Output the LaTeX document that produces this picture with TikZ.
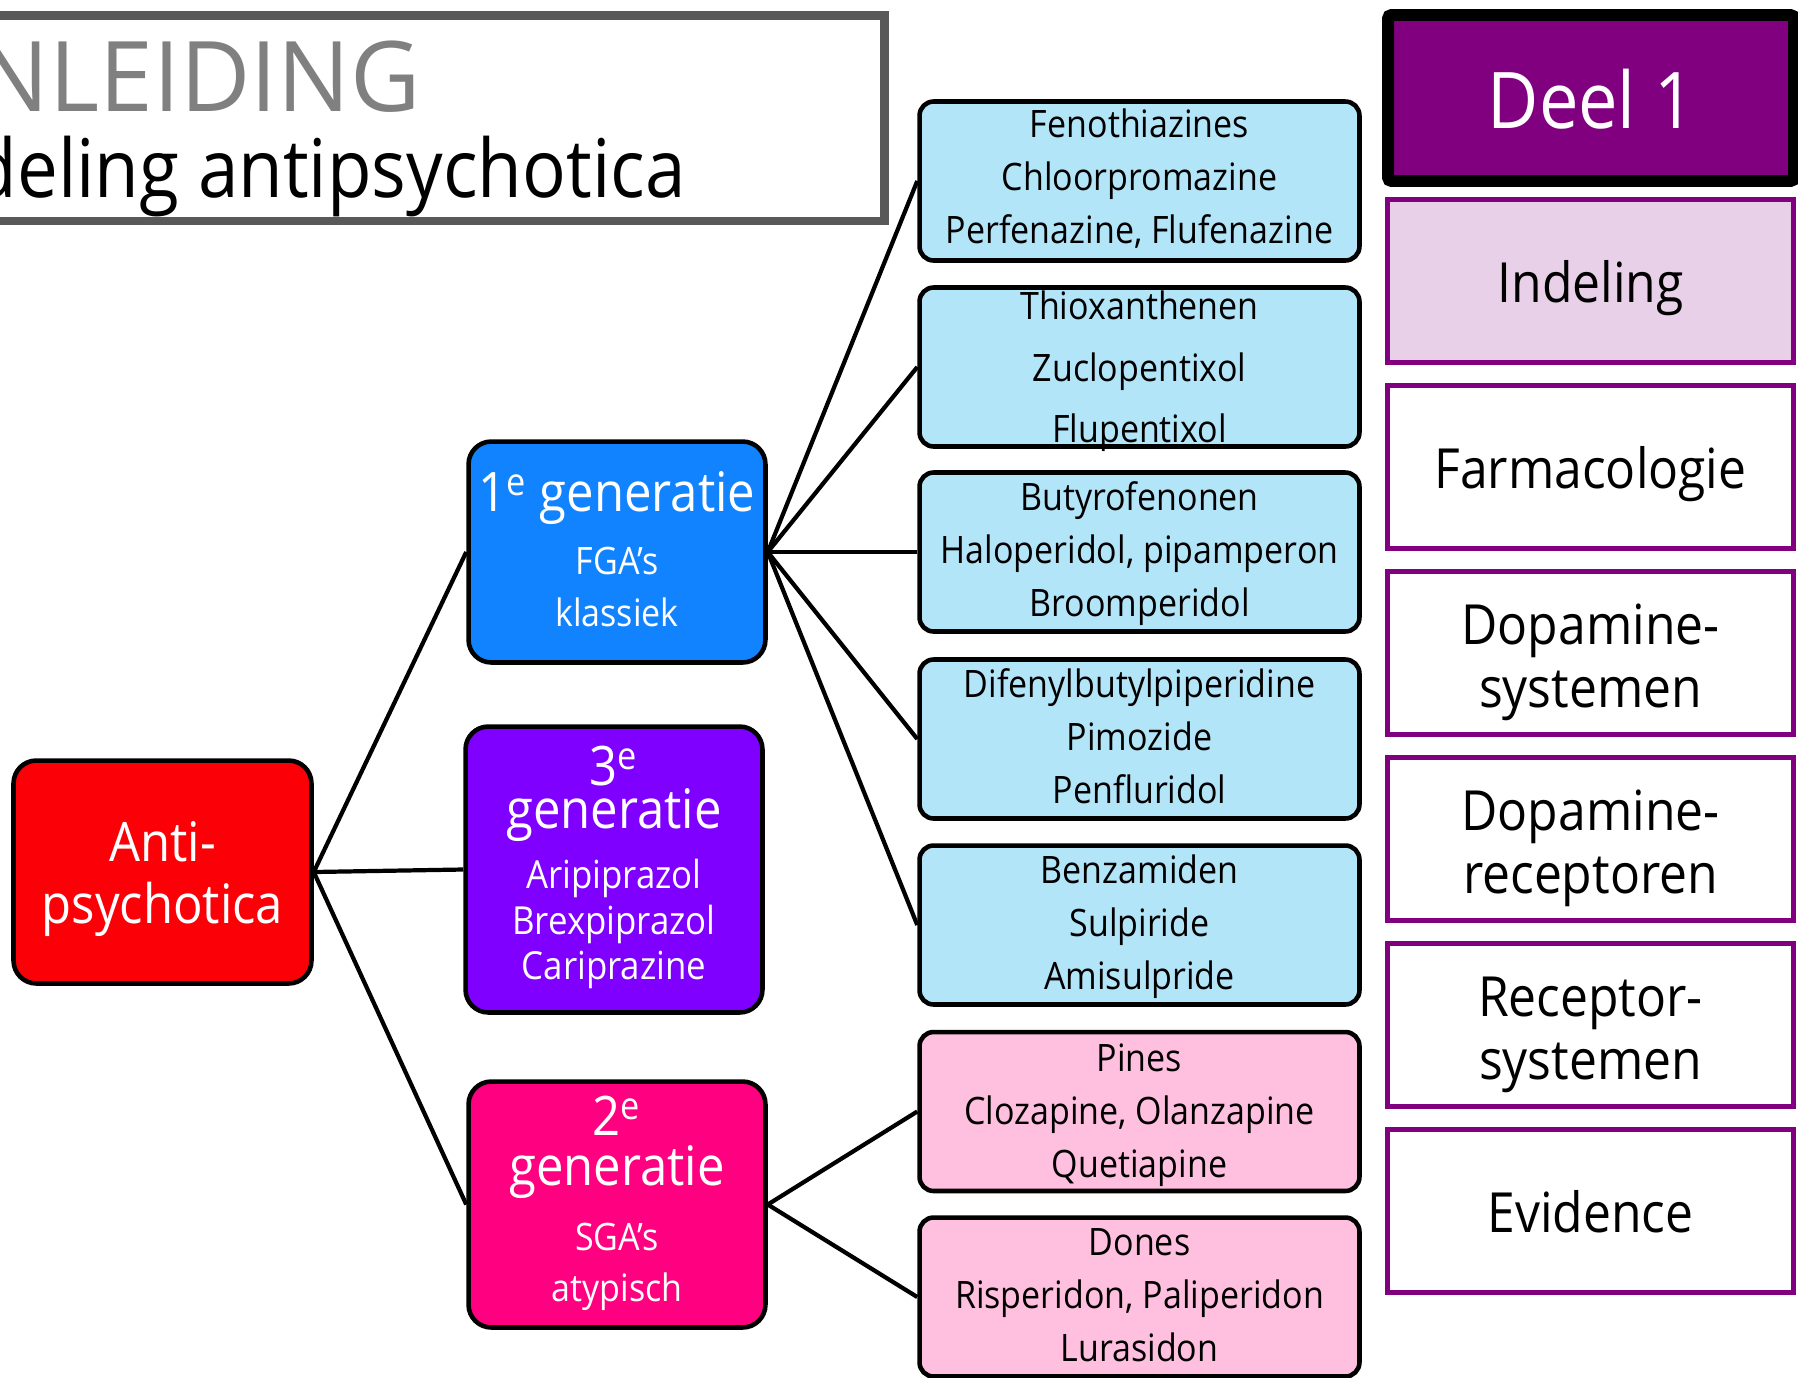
\documentclass[tikz,border=0pt]{standalone}
\usepackage{fontspec}
\setmainfont{Open Sans}[FakeStretch=0.9]
\newfontfamily\titlefont{Open Sans}[FakeStretch=0.99]
\definecolor{redbox}{RGB}{252,0,8}
\definecolor{bluebox}{RGB}{18,131,255}
\definecolor{violetbox}{RGB}{128,0,255}
\definecolor{pinkbox}{RGB}{255,0,128}
\definecolor{lightblue}{RGB}{179,229,249}
\definecolor{lightpink}{RGB}{255,191,223}
\definecolor{deel}{RGB}{128,0,128}
\definecolor{lila}{RGB}{232,208,232}
\definecolor{titlegray}{RGB}{128,128,128}
\definecolor{framegray}{RGB}{89,89,89}

\begin{document}
\begin{tikzpicture}[x=0.02cm, y=-0.02cm,
  gennode/.style={draw, line width=2.6pt, rounded corners=13pt, text=white, align=center, minimum width=5.94cm, inner sep=0pt, text depth=0pt},
  drugbox/.style={draw, line width=2.6pt, rounded corners=8pt, align=center, minimum width=8.8cm, minimum height=3.18cm, inner sep=0pt, text height=73pt, text depth=0pt, font=\fontsize{21.5}{30}\selectfont},
  menubox/.style={draw=deel, line width=2.4pt, minimum width=8.12cm, minimum height=3.26cm, align=center, inner sep=0pt, text height=24.5pt, text depth=0pt, font=\fontsize{31.5}{35.7}\selectfont},
  wire/.style={line width=2.4pt}]
\clip (0,0) rectangle (1798,1377);
% title
\node[draw=framegray, line width=5.1pt, minimum width=18.1cm, minimum height=4.12cm] (frame) at (432.5,118) {};
\node[anchor=base east, inner sep=0pt, text=titlegray, font=\titlefont\fontsize{55.5}{60}\selectfont] (kop) at (421,111) {INLEIDING};
\node[anchor=base east, inner sep=0pt, font=\fontsize{46}{50}\selectfont] (ondertitel) at (686,197) {Indeling antipsychotica};
% tree
\node[gennode, fill=redbox, minimum width=5.96cm, minimum height=4.46cm, text height=59pt, font=\fontsize{31}{35.7}\selectfont] (ap) at (162.5,872) {Anti-\\psychotica};
\node[gennode, fill=bluebox, minimum height=4.42cm, text height=85pt, font=\fontsize{21.5}{29.5}\selectfont] (g1) at (617,552) {{\fontsize{31}{36}\selectfont 1\textsuperscript{e} generatie}\\[6.8pt]FGA’s\\klassiek};
\node[gennode, fill=violetbox, minimum height=5.72cm, text height=125.5pt, font=\fontsize{22}{26}\selectfont] (g3) at (614,869.5) {{\fontsize{31}{36}\selectfont 3\textsuperscript{e}}\\[-1.6pt]{\fontsize{31}{36}\selectfont generatie}\\[8pt]Aripiprazol\\Brexpiprazol\\Cariprazine};
\node[gennode, fill=pinkbox, minimum height=4.92cm, text height=110pt, font=\fontsize{21.5}{29}\selectfont] (g2) at (617,1204.5) {{\fontsize{31}{36}\selectfont 2\textsuperscript{e}}\\[-0.7pt]{\fontsize{31}{36}\selectfont generatie}\\[7.8pt]SGA’s\\atypisch};
% groups
\node[drugbox, fill=lightblue, text height=71pt] (f1) at (1139.5,181) {Fenothiazines\\Chloorpromazine\\Perfenazine, Flufenazine};
\node[drugbox, fill=lightblue, text height=86pt, font=\fontsize{21.5}{35}\selectfont] (f2) at (1139.5,367) {Thioxanthenen\\Zuclopentixol\\Flupentixol};
\node[drugbox, fill=lightblue] (f3) at (1139.5,552) {Butyrofenonen\\Haloperidol, pipamperon\\Broomperidol};
\node[drugbox, fill=lightblue] (f4) at (1139.5,739) {Difenylbutylpiperidine\\Pimozide\\Penfluridol};
\node[drugbox, fill=lightblue] (f5) at (1139.5,925) {Benzamiden\\Sulpiride\\Amisulpride};
\node[drugbox, fill=lightpink, text height=75pt] (s1) at (1139.5,1111.5) {Pines\\Clozapine, Olanzapine\\Quetiapine};
\node[drugbox, fill=lightpink] (s2) at (1139.5,1297) {Dones\\Risperidon, Paliperidon\\Lurasidon};
% menu
\node[menubox, draw=black, line width=6.8pt, rounded corners=2pt, fill=deel, text=white, minimum height=3.32cm, text height=34.5pt, font=\fontsize{44.5}{50}\selectfont] (d0) at (1591,98) {Deel 1};
\node[menubox, fill=lila] (d1) at (1590.5,281) {Indeling};
\node[menubox] (d2) at (1590.5,467) {Farmacologie};
\node[menubox, text height=61.6pt] (d3) at (1590.5,653) {Dopamine-\\systemen};
\node[menubox, text height=61.6pt] (d4) at (1590.5,839) {Dopamine-\\receptoren};
\node[menubox, text height=61.6pt] (d5) at (1590.5,1025) {Receptor-\\systemen};
\node[menubox] (d6) at (1590.5,1211) {Evidence};
% lines
\draw[wire] (ap.east) -- (g1.west);
\draw[wire] (ap.east) -- (g3.west);
\draw[wire] (ap.east) -- (g2.west);
\draw[wire] (g1.east) -- (f1.west);
\draw[wire] (g1.east) -- (f2.west);
\draw[wire] (g1.east) -- (f3.west);
\draw[wire] (g1.east) -- (f4.west);
\draw[wire] (g1.east) -- (f5.west);
\draw[wire] (g2.east) -- (s1.west);
\draw[wire] (g2.east) -- (s2.west);
\end{tikzpicture}
\end{document}
